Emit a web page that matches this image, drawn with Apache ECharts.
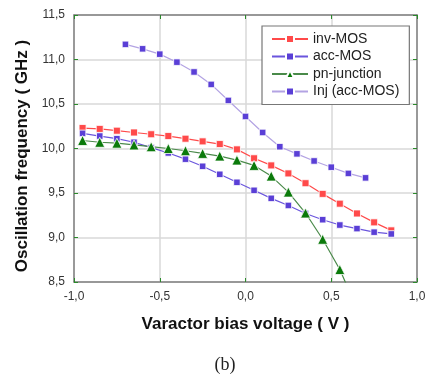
<!DOCTYPE html>
<html><head><meta charset="utf-8">
<script src="https://cdn.jsdelivr.net/npm/echarts@6/dist/echarts.min.js"></script>
<style>html,body{margin:0;padding:0;background:#fff}#c{width:429px;height:377px}</style>
</head><body><div id="c"></div>
<script>
const xMain = [-0.95,-0.85,-0.75,-0.65,-0.55,-0.45,-0.35,-0.25,-0.15,-0.05,0.05,0.15,0.25,0.35,0.45,0.55,0.65,0.75,0.85];
const invMOS = [10.23,10.22,10.20,10.18,10.16,10.14,10.11,10.08,10.05,9.99,9.89,9.81,9.72,9.61,9.49,9.38,9.27,9.17,9.08];
const accMOS = [10.17,10.14,10.11,10.07,10.01,9.95,9.88,9.80,9.71,9.62,9.53,9.44,9.36,9.27,9.20,9.14,9.10,9.06,9.04];
const xPn = [-0.95,-0.85,-0.75,-0.65,-0.55,-0.45,-0.35,-0.25,-0.15,-0.05,0.05,0.15,0.25,0.35,0.45,0.55,0.65];
const pnJunction = [10.09,10.07,10.06,10.04,10.02,10.00,9.975,9.945,9.915,9.87,9.81,9.69,9.51,9.275,8.98,8.64,8.2];
const xInj = [-0.7,-0.6,-0.5,-0.4,-0.3,-0.2,-0.1,0.0,0.1,0.2,0.3,0.4,0.5,0.6,0.7];
const injAccMOS = [11.17,11.12,11.06,10.97,10.86,10.72,10.54,10.36,10.18,10.02,9.94,9.86,9.79,9.72,9.67];
const seriesNames = ['inv-MOS','acc-MOS','pn-junction','Inj (acc-MOS)'];
const xTitle = 'Varactor bias voltage ( V )';
const yTitle = 'Oscillation frequency ( GHz )';
const caption = '(b)';

const pair = (xs, ys) => xs.map((x,i)=>[x, ys[i]]);
const fmt = v => v.toFixed(1).replace('.', ',');
const font = 'Liberation Sans, Arial, sans-serif';
const chart = echarts.init(document.getElementById('c'));
const axisLineStyle = {show:true, onZero:false, lineStyle:{color:'#808080', width:1.5}};
const tick = {show:true, inside:true, length:4, lineStyle:{color:'#2a8a2a', width:1}};
chart.setOption({
  animation:false,
  grid:{left:74, right:12, top:15, bottom:95},
  legend:{
    orient:'vertical', left:262, top:26, width:150,
    backgroundColor:'#fff', borderColor:'#777', borderWidth:1.2,
    padding:[6,10,6,9], itemGap:3.5, itemWidth:36, itemHeight:10,
    textStyle:{fontFamily:font, fontSize:14, color:'#222'},
    data: seriesNames
  },
  xAxis:[{
    type:'value', min:-1, max:1, interval:0.5,
    axisLine:axisLineStyle, axisTick:tick,
    splitLine:{show:true, lineStyle:{color:'#d9d9d9', width:1.5}},
    axisLabel:{formatter:fmt, fontFamily:font, fontSize:12, color:'#333', margin:9},
    name:xTitle, nameLocation:'middle', nameGap:34,
    nameTextStyle:{fontFamily:font, fontSize:17, fontWeight:'bold', color:'#111'}
  },{
    type:'value', min:-1, max:1, interval:0.5, position:'top',
    axisLine:axisLineStyle, axisTick:tick, axisLabel:{show:false}, splitLine:{show:false}
  }],
  yAxis:[{
    type:'value', min:8.5, max:11.5, interval:0.5,
    axisLine:axisLineStyle, axisTick:tick,
    splitLine:{show:true, lineStyle:{color:'#d9d9d9', width:1.5}},
    axisLabel:{formatter:fmt, fontFamily:font, fontSize:12, color:'#333', margin:9}
  },{
    type:'value', min:8.5, max:11.5, interval:0.5, position:'right',
    axisLine:axisLineStyle, axisTick:tick, axisLabel:{show:false}, splitLine:{show:false}
  }],
  graphic:[
    {type:'text', x:22, y:156, rotation:Math.PI/2,
     style:{text:yTitle, font:'bold 17px "Liberation Sans", Arial, sans-serif', fill:'#111', textAlign:'center', textVerticalAlign:'middle'}},
    {type:'text', x:225, y:365,
     style:{text:caption, font:'18px "Liberation Serif", "Times New Roman", serif', fill:'#222', textAlign:'center', textVerticalAlign:'middle'}}
  ],
  series:[
    {name:seriesNames[0], type:'line', data:pair(xMain, invMOS), symbol:'rect', symbolSize:7,
     itemStyle:{color:'#ff4a4a', borderColor:'#fff', borderWidth:0.8}, lineStyle:{color:'#ff4a4a', width:1.2}},
    {name:seriesNames[1], type:'line', data:pair(xMain, accMOS), symbol:'rect', symbolSize:6.5,
     itemStyle:{color:'#5a3fd6', borderColor:'#fff', borderWidth:0.8}, lineStyle:{color:'#6a55dd', width:1.2}},
    {name:seriesNames[2], type:'line', data:pair(xPn, pnJunction), symbol:'triangle', symbolSize:10, clip:true,
     itemStyle:{color:'#0b7a0b', borderColor:'#fff', borderWidth:0.8}, lineStyle:{color:'#4a8a4a', width:1.2}},
    {name:seriesNames[3], type:'line', data:pair(xInj, injAccMOS), symbol:'rect', symbolSize:6.5,
     itemStyle:{color:'#5a3fd6', borderColor:'#fff', borderWidth:0.8}, lineStyle:{color:'#b3a3e3', width:1.2}}
  ]
});
</script></body></html>
